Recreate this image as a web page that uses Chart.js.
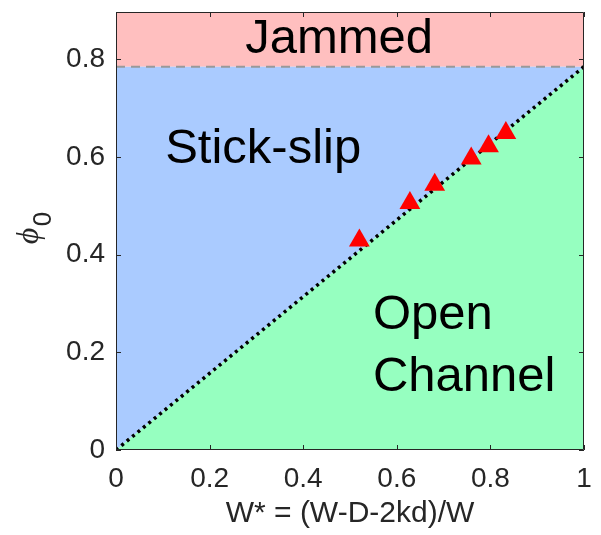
<!DOCTYPE html>
<html>
<head>
<meta charset="utf-8">
<script src="https://cdn.jsdelivr.net/npm/chart.js@4/dist/chart.umd.min.js"></script>
<style>
html,body{margin:0;padding:0;background:#fff;}
canvas{display:block;}
</style>
</head>
<body>
<canvas id="c" width="601" height="535"></canvas>
<script>
// ---- data ----
const xTicks = [0, 0.2, 0.4, 0.6, 0.8, 1];
const xTickLabels = ['0', '0.2', '0.4', '0.6', '0.8', '1'];
const yTicks = [0, 0.2, 0.4, 0.6, 0.8];
const yTickLabels = ['0', '0.2', '0.4', '0.6', '0.8'];
const xRange = [0, 1];
const yRange = [0, 0.897];
const jamPhi = 0.785;                 // jamming limit (dashed line)
const boundaryX = [0, 1];             // stick-slip / open channel boundary
const boundaryY = [0, 0.785];
const wStar = [0.520, 0.628, 0.681, 0.759, 0.796, 0.833];
const phi0  = [0.429, 0.506, 0.543, 0.597, 0.622, 0.649];
const regionLabels = [
  {text: 'Jammed', x: 0.276, y: 0.8135},
  {text: 'Stick-slip', x: 0.105, y: 0.588},
  {text: 'Open', x: 0.549, y: 0.2477},
  {text: 'Channel', x: 0.549, y: 0.1208}
];
const xTitle = 'W* = (W-D-2kd)/W';
const yTitleMain = 'ϕ';
const yTitleSub = '0';

const AX = '#262626';
const FONT = '"Liberation Sans", Arial, Helvetica, sans-serif';

const pts = (xs, ys) => xs.map((x, i) => ({x: x, y: ys[i]}));

const decor = {
  id: 'decor',
  afterDraw(chart) {
    const ctx = chart.ctx, a = chart.chartArea;
    const xs = chart.scales.x, ys = chart.scales.y;
    ctx.save();
    // region labels
    ctx.fillStyle = '#000';
    ctx.font = '49px ' + FONT;
    ctx.textAlign = 'left';
    ctx.textBaseline = 'alphabetic';
    regionLabels.forEach(l => ctx.fillText(l.text, xs.getPixelForValue(l.x), ys.getPixelForValue(l.y)));
    // box
    ctx.strokeStyle = AX;
    ctx.lineWidth = 1;
    ctx.beginPath();
    ctx.rect(a.left + 0.5, a.top + 0.5, a.right - a.left - 1, a.bottom - a.top - 1);
    ctx.stroke();
    // inward ticks
    const tl = 5;
    ctx.beginPath();
    xTicks.forEach(v => {
      const px = Math.round(xs.getPixelForValue(v)) + 0.5;
      ctx.moveTo(px, a.bottom); ctx.lineTo(px, a.bottom - tl);
      ctx.moveTo(px, a.top); ctx.lineTo(px, a.top + tl);
    });
    yTicks.forEach(v => {
      const py = Math.round(ys.getPixelForValue(v)) + 0.5;
      ctx.moveTo(a.left, py); ctx.lineTo(a.left + tl, py);
      ctx.moveTo(a.right, py); ctx.lineTo(a.right - tl, py);
    });
    ctx.stroke();
    // x title
    ctx.fillStyle = AX;
    ctx.font = '30px ' + FONT;
    ctx.textAlign = 'center';
    ctx.textBaseline = 'middle';
    ctx.fillText(xTitle, (a.left + a.right) / 2, 514);
    // y title (rotated, with subscript)
    ctx.translate(30, 236);
    ctx.rotate(-Math.PI / 2);
    ctx.font = 'italic 32px "Liberation Serif", "DejaVu Serif", serif';
    ctx.fillText(yTitleMain, 0, 0);
    ctx.font = '26px ' + FONT;
    ctx.fillText(yTitleSub, 17, 14);
    ctx.restore();
  }
};

new Chart(document.getElementById('c'), {
  type: 'scatter',
  data: {
    datasets: [
      { // boundary line, open channel region below
        data: pts(boundaryX, boundaryY),
        showLine: true,
        borderColor: '#000',
        borderWidth: 3.5,
        borderDash: [3, 4],
        borderCapStyle: 'butt',
        backgroundColor: '#96FFC0',
        fill: 'start',
        pointRadius: 0,
        order: 1
      },
      { // jamming line, stick-slip region between
        data: pts(xRange, [jamPhi, jamPhi]),
        showLine: true,
        borderColor: '#999999',
        borderWidth: 2,
        borderDash: [9, 6],
        backgroundColor: '#AACBFF',
        fill: 0,
        pointRadius: 0,
        order: 2
      },
      { // jammed region
        data: pts(xRange, [yRange[1], yRange[1]]),
        showLine: true,
        borderWidth: 0,
        borderColor: 'rgba(0,0,0,0)',
        backgroundColor: '#FFBFBF',
        fill: 1,
        pointRadius: 0,
        order: 3
      },
      { // measured points
        data: pts(wStar, phi0),
        showLine: false,
        pointStyle: 'triangle',
        pointRadius: 12,
        pointBackgroundColor: '#FF0000',
        pointBorderColor: '#FF0000',
        pointBorderWidth: 0,
        order: 0
      }
    ]
  },
  options: {
    responsive: false,
    animation: false,
    events: [],
    layout: {padding: {left: 0, top: 5, right: 17, bottom: 0}},
    plugins: {legend: {display: false}, tooltip: {enabled: false}},
    scales: {
      x: {
        type: 'linear', min: xRange[0], max: xRange[1],
        afterBuildTicks: s => { s.ticks = xTicks.map(v => ({value: v})); },
        afterFit: s => { s.height = 85; s.paddingLeft = 0; s.paddingRight = 0; },
        grid: {display: false, drawTicks: false},
        border: {display: false},
        ticks: {
          color: AX, padding: 12, maxRotation: 0, autoSkip: false,
          font: {family: FONT, size: 28},
          callback: (v, i) => xTickLabels[i]
        }
      },
      y: {
        type: 'linear', min: yRange[0], max: yRange[1],
        afterBuildTicks: s => { s.ticks = yTicks.map(v => ({value: v})); },
        afterFit: s => { s.width = 116; s.paddingTop = 0; s.paddingBottom = 0; },
        grid: {display: false, drawTicks: false},
        border: {display: false},
        ticks: {
          color: AX, padding: 11, autoSkip: false,
          font: {family: FONT, size: 28},
          callback: (v, i) => yTickLabels[i]
        }
      }
    }
  },
  plugins: [decor]
});
</script>
</body>
</html>
